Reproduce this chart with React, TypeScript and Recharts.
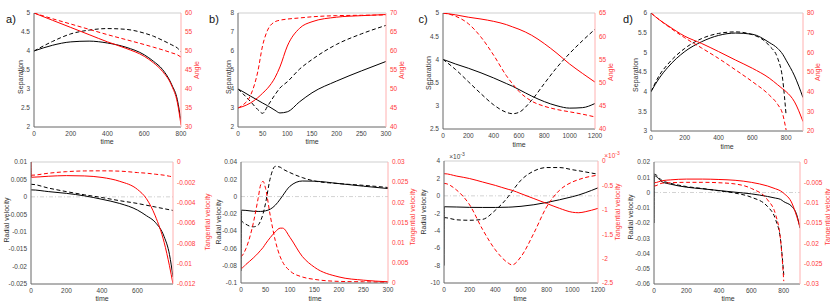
import React from "react"
import { LineChart, Line, XAxis, YAxis, ReferenceLine } from "recharts"

// ---- panel a: separation / angle ----
const tA = [0, 100, 200, 300, 400, 500, 600, 650, 700, 750, 780, 800]
const sepA = [4.0, 4.15, 4.24, 4.26, 4.21, 4.1, 3.9, 3.73, 3.51, 3.11, 2.72, 2.15]
const sepA2 = [4.0, 4.25, 4.45, 4.55, 4.59, 4.57, 4.47, 4.39, 4.28, 4.16, 4.08, 3.98]
const angA = [60, 58.1, 56.2, 54.3, 52.4, 50.7, 48.6, 46.9, 44.6, 40.8, 36.5, 30.5]
const angA2 = [60, 58.5, 57.1, 55.7, 54.3, 53.0, 51.7, 51.0, 50.3, 49.5, 49.0, 48.4]

// ---- panel b ----
const tB = [0, 10, 25, 40, 50, 60, 75, 85, 100, 125, 150, 200, 250, 300]
const sepB = [4.0, 3.86, 3.63, 3.41, 3.26, 3.12, 2.88, 2.74, 2.8, 3.33, 3.8, 4.42, 4.95, 5.45]
const sepB2 = [4.0, 3.75, 3.35, 2.92, 2.72, 3.1, 3.7, 4.05, 4.38, 5.05, 5.55, 6.35, 6.9, 7.35]
const angB = [45, 45.4, 46.3, 47.7, 48.9, 50.2, 53.0, 55.8, 61.3, 66.0, 67.7, 68.9, 69.3, 69.6]
const angB2 = [45, 45.8, 48.2, 54.5, 61.5, 65.5, 67.7, 68.1, 68.4, 68.7, 69.0, 69.3, 69.4, 69.5]

// ---- panel c ----
const tC = [0, 100, 200, 300, 400, 500, 550, 600, 700, 800, 900, 1000, 1100, 1200]
const sepC = [4.0, 3.9, 3.81, 3.71, 3.6, 3.48, 3.42, 3.35, 3.21, 3.09, 3.0, 2.95, 2.96, 3.05]
const sepC2 = [4.0, 3.78, 3.52, 3.26, 3.02, 2.86, 2.83, 2.86, 3.12, 3.48, 3.83, 4.13, 4.4, 4.65]
const angC = [65, 64.6, 64.1, 63.7, 63.2, 62.5, 62.0, 61.5, 60.2, 58.4, 56.3, 54.0, 52.0, 50.1]
const angC2 = [65, 64.3, 62.7, 59.8, 55.9, 51.5, 49.7, 48.1, 46.0, 44.9, 44.2, 43.7, 43.2, 42.6]

// ---- panel d ----
const tD = [0, 50, 100, 200, 300, 400, 500, 600, 700, 750, 780, 800, 850, 900]
const sepD = [4.0, 4.35, 4.62, 5.02, 5.27, 5.43, 5.49, 5.46, 5.25, 5.1, 4.95, 4.8, 4.4, 3.85]
const sepD2 = [4.0, 4.42, 4.7, 5.1, 5.35, 5.48, 5.52, 5.45, 5.17, 4.85, 4.3, 3.4, null, null]
const angD = [80, 76.5, 73.6, 68.2, 64.5, 60.4, 56.1, 51.9, 46.9, 43.5, 41.4, 40.0, 34.8, 24.8]
const angD2 = [80, 76.5, 73.3, 67.4, 62.2, 56.9, 51.1, 45.1, 38.3, 33.5, 28.5, 20.5, null, null]

// ---- velocities ----
const tAv = [0, 2, 100, 200, 300, 400, 500, 600, 650, 700, 750, 780, 800]
const rvA = [0.002, 0.002, 0.0015, 0.001, 0.0003, -0.0007, -0.0019, -0.0038, -0.0054, -0.0073, -0.0114, -0.0165, -0.023]
const rvA2 = [0.0036, 0.0036, 0.0025, 0.0015, 0.0006, -0.0002, -0.0011, -0.0019, -0.0024, -0.0029, -0.0034, -0.0037, -0.0039]
const tvA = [0, -0.0015, -0.0014, -0.00134, -0.00137, -0.00152, -0.0019, -0.0027, -0.0036, -0.0053, -0.0079, -0.0102, -0.012]
const tvA2 = [-0.0013, -0.0013, -0.0011, -0.00095, -0.00088, -0.00087, -0.0009, -0.00104, -0.0011, -0.0012, -0.0013, -0.0014, -0.00147]

const tBv = [0, 1, 10, 25, 35, 40, 45, 50, 60, 70, 80, 85, 100, 125, 150, 200, 250, 300]
const rvB = [-0.086, -0.0157, -0.016, -0.017, -0.0172, -0.0172, -0.017, -0.0165, -0.0145, -0.01, -0.003, 0.001, 0.012, 0.018, 0.0178, 0.015, 0.012, 0.0093]
const rvB2 = [-0.027, -0.028, -0.032, -0.035, -0.033, -0.028, -0.02, -0.008, 0.022, 0.035, 0.034, 0.032, 0.0277, 0.022, 0.018, 0.015, 0.013, 0.0105]
const tvB = [0.0037, 0.0037, 0.0046, 0.0062, 0.0074, 0.0081, 0.0088, 0.0097, 0.0113, 0.0127, 0.0136, 0.0136, 0.0113, 0.0066, 0.0039, 0.0015, 0.0007, 0.0003]
const tvB2 = [0.0065, 0.0066, 0.0085, 0.0148, 0.021, 0.0243, 0.0252, 0.0235, 0.0165, 0.0105, 0.0065, 0.0052, 0.003, 0.0015, 0.0009, 0.0004, 0.0003, 0.0002]

// panel c velocities are in units of 1e-3
const tCv = [0, 2, 100, 200, 300, 400, 500, 530, 600, 700, 800, 900, 1000, 1050, 1100, 1200]
const rvC = [-8, -1.25, -1.28, -1.32, -1.33, -1.33, -1.3, -1.28, -1.2, -1.02, -0.76, -0.45, -0.1, 0.1, 0.35, 0.92]
const rvC2 = [-2.5, -2.5, -2.75, -2.8, -2.7, -1.65, -0.1, 0.5, 1.8, 2.85, 3.25, 3.25, 3.0, 2.88, 2.75, 2.48]
const tvC = [-0.26, -0.26, -0.31, -0.36, -0.43, -0.5, -0.58, -0.6, -0.67, -0.77, -0.87, -0.97, -1.05, -1.06, -1.04, -0.97]
const tvC2 = [-0.46, -0.46, -0.6, -0.9, -1.4, -1.82, -2.09, -2.13, -1.96, -1.48, -0.94, -0.6, -0.43, -0.38, -0.34, -0.29]

const tDv = [0, 2, 50, 100, 200, 300, 400, 500, 600, 700, 750, 780, 800, 850, 880, 900]
const rvD = [-0.02, 0.011, 0.007, 0.0055, 0.0035, 0.0024, 0.0013, 0.0002, -0.0009, -0.0026, -0.0037, -0.0045, -0.006, -0.0092, -0.0147, -0.0234]
const rvD2 = [0.012, 0.012, 0.0078, 0.0061, 0.0039, 0.0026, 0.0011, -0.0004, -0.0031, -0.0092, -0.0179, -0.031, -0.054, null, null, null]
const tvD = [-0.0051, -0.0051, -0.0046, -0.0044, -0.0042, -0.0042, -0.0043, -0.0045, -0.005, -0.0059, -0.0066, -0.0071, -0.0077, -0.0101, -0.0134, -0.016]
const tvD2 = [-0.0059, -0.0059, -0.0052, -0.0051, -0.005, -0.005, -0.0051, -0.0054, -0.0065, -0.0093, -0.013, -0.0191, -0.0293, null, null, null]

const BLACK = "#000"
const RED = "#ff0000"
const FONT = "'Liberation Sans', Arial, sans-serif"

type Val = number | null

interface Series {
  values: Val[]
  axis: "l" | "r"
  color: string
  dashed?: boolean
}

interface PanelProps {
  x0: number
  x1: number
  y0: number
  y1: number
  time: number[]
  xDomain: [number, number]
  xTicks: number[]
  lDomain: [number, number]
  lTicks: number[]
  rDomain: [number, number]
  rTicks: number[]
  series: Series[]
  zero?: boolean
}

const fmt = (v: number) => {
  const r = Number(v.toFixed(8))
  return String(r === 0 ? 0 : r)
}

// tick positions, rounded so that 0 stays 0
const range = (a: number, b: number, s: number) => {
  const n = Math.round((b - a) / s)
  const out: number[] = []
  for (let i = 0; i <= n; i++) out.push(Number((a + i * s).toFixed(8)))
  return out
}

function Panel(p: PanelProps) {
  const data = p.time.map((t, i) => {
    const row: Record<string, Val> = { t }
    p.series.forEach((s, k) => (row["s" + k] = s.values[i]))
    return row
  })
  const w = p.x1 - p.x0 + 80
  const h = p.y1 - p.y0 + 25
  return (
    <div style={{ position: "absolute", left: p.x0 - 40, top: p.y0 - 5 }}>
      <LineChart width={w} height={h} data={data} margin={{ top: 5, right: 0, bottom: 0, left: 0 }}>
        <XAxis
          dataKey="t"
          type="number"
          domain={p.xDomain}
          ticks={p.xTicks}
          height={20}
          stroke="#666"
          tickLine={false}
          tickSize={2}
          tickFormatter={fmt}
          tick={{ fill: "#444", fontSize: 6.5, fontFamily: FONT }}
          allowDataOverflow
        />
        <YAxis
          yAxisId="l"
          domain={p.lDomain}
          ticks={p.lTicks}
          width={40}
          stroke="#666"
          tickLine={false}
          tickSize={2}
          tickFormatter={fmt}
          tick={{ fill: "#444", fontSize: 6.5, fontFamily: FONT }}
          allowDataOverflow
        />
        <YAxis
          yAxisId="r"
          orientation="right"
          domain={p.rDomain}
          ticks={p.rTicks}
          width={40}
          stroke="#ffb0b0"
          tickLine={false}
          tickSize={2}
          tickFormatter={fmt}
          tick={{ fill: "#ff3b3b", fontSize: 6.5, fontFamily: FONT }}
          allowDataOverflow
        />
        <ReferenceLine yAxisId="l" y={p.lDomain[1]} stroke="#cfcfcf" />
        {p.zero && (
          <ReferenceLine yAxisId="l" y={0} stroke="#c8c8c8" strokeWidth={0.8} strokeDasharray="4 2 1 2" />
        )}
        {p.series.map((s, k) => (
          <Line
            key={k}
            yAxisId={s.axis}
            dataKey={"s" + k}
            type="monotone"
            stroke={s.color}
            strokeWidth={1}
            strokeDasharray={s.dashed ? "4 2.5" : undefined}
            dot={false}
            isAnimationActive={false}
          />
        ))}
      </LineChart>
    </div>
  )
}

function Txt({ x, y, text, color = "#333", rot = false, size = 7 }: { x: number; y: number; text: React.ReactNode; color?: string; rot?: boolean; size?: number }) {
  return (
    <div
      style={{
        position: "absolute",
        left: x,
        top: y,
        transform: `translate(-50%, -50%)${rot ? " rotate(-90deg)" : ""}`,
        whiteSpace: "nowrap",
        fontSize: size,
        color,
        fontFamily: FONT,
        lineHeight: 1,
      }}
    >
      {text}
    </div>
  )
}

const sep = (a: Val[], b: Val[], c: Val[], d: Val[]): Series[] => [
  { values: a, axis: "l", color: BLACK },
  { values: b, axis: "l", color: BLACK, dashed: true },
  { values: c, axis: "r", color: RED },
  { values: d, axis: "r", color: RED, dashed: true },
]

export default function App() {
  const exp = (
    <span>
      ×10<sup style={{ fontSize: 5 }}>-3</sup>
    </span>
  )
  return (
    <div style={{ position: "absolute", left: 0, top: 0, width: 830, height: 304, background: "#fff", overflow: "hidden", fontFamily: FONT }}>
      {/* top row */}
      <Panel x0={34} x1={181} y0={13} y1={127} time={tA} xDomain={[0, 800]} xTicks={range(0, 800, 200)}
        lDomain={[2, 5]} lTicks={range(2, 5, 0.5)} rDomain={[30, 60]} rTicks={range(30, 60, 5)}
        series={sep(sepA, sepA2, angA, angA2)} />
      <Panel x0={238} x1={386} y0={13} y1={127} time={tB} xDomain={[0, 300]} xTicks={range(0, 300, 50)}
        lDomain={[2, 8]} lTicks={range(2, 8, 1)} rDomain={[40, 70]} rTicks={range(40, 70, 5)}
        series={sep(sepB, sepB2, angB, angB2)} />
      <Panel x0={443} x1={595} y0={13} y1={129} time={tC} xDomain={[0, 1200]} xTicks={range(0, 1200, 200)}
        lDomain={[2.5, 5]} lTicks={range(2.5, 5, 0.5)} rDomain={[40, 65]} rTicks={range(40, 65, 5)}
        series={sep(sepC, sepC2, angC, angC2)} />
      <Panel x0={651} x1={803} y0={13} y1={131} time={tD} xDomain={[0, 900]} xTicks={range(0, 800, 200)}
        lDomain={[3, 6]} lTicks={range(3, 6, 0.5)} rDomain={[20, 80]} rTicks={range(20, 80, 10)}
        series={sep(sepD, sepD2, angD, angD2)} />

      {/* bottom row */}
      <Panel x0={31} x1={173} y0={162} y1={284} time={tAv} xDomain={[0, 800]} xTicks={range(0, 600, 200)}
        lDomain={[-0.025, 0.01]} lTicks={range(-0.025, 0.01, 0.005)} rDomain={[-0.012, 0]} rTicks={range(-0.012, 0, 0.002)}
        series={sep(rvA, rvA2, tvA, tvA2)} zero />
      <Panel x0={241} x1={388} y0={162} y1={283} time={tBv} xDomain={[0, 300]} xTicks={range(0, 300, 50)}
        lDomain={[-0.1, 0.04]} lTicks={range(-0.1, 0.04, 0.02)} rDomain={[0, 0.03]} rTicks={range(0, 0.03, 0.005)}
        series={sep(rvB, rvB2, tvB, tvB2)} zero />
      <Panel x0={444} x1={598} y0={161} y1={283} time={tCv} xDomain={[0, 1200]} xTicks={range(0, 1200, 200)}
        lDomain={[-10, 4]} lTicks={range(-10, 4, 2)} rDomain={[-2.5, 0]} rTicks={range(-2.5, 0, 0.5)}
        series={sep(rvC, rvC2, tvC, tvC2)} zero />
      <Panel x0={654} x1={800} y0={162} y1={284} time={tDv} xDomain={[0, 900]} xTicks={range(0, 800, 200)}
        lDomain={[-0.06, 0.02]} lTicks={range(-0.06, 0.02, 0.01)} rDomain={[-0.03, 0]} rTicks={range(-0.03, 0, 0.005)}
        series={sep(rvD, rvD2, tvD, tvD2)} zero />

      {/* panel letters */}
      <Txt x={11} y={19} text="a)" color="#111" size={11} />
      <Txt x={214} y={19} text="b)" color="#111" size={11} />
      <Txt x={423} y={19} text="c)" color="#111" size={11} />
      <Txt x={628} y={19} text="d)" color="#111" size={11} />

      {/* top axis labels */}
      <Txt x={20} y={77} text="Separation" rot />
      <Txt x={196} y={70} text="Angle" rot color="#ff3b3b" />
      <Txt x={107} y={141} text="time" />
      <Txt x={228} y={77} text="Separation" rot />
      <Txt x={401} y={70} text="Angle" rot color="#ff3b3b" />
      <Txt x={312} y={141} text="time" />
      <Txt x={428} y={73} text="Separation" rot />
      <Txt x={610} y={72} text="Angle" rot color="#ff3b3b" />
      <Txt x={519} y={144} text="time" />
      <Txt x={635} y={75} text="Separation" rot />
      <Txt x={817} y={72} text="Angle" rot color="#ff3b3b" />
      <Txt x={727} y={146} text="time" />

      {/* bottom axis labels */}
      <Txt x={6} y={220} text="Radial velocity" rot />
      <Txt x={207} y={222} text="Tangential velocity" rot color="#ff3b3b" />
      <Txt x={102} y={298} text="time" />
      <Txt x={218} y={222} text="Radial velocity" rot />
      <Txt x={412} y={217} text="Tangential velocity" rot color="#ff3b3b" />
      <Txt x={315} y={298} text="time" />
      <Txt x={423} y={212} text="Radial velocity" rot />
      <Txt x={617} y={212} text="Tangential velocity" rot color="#ff3b3b" />
      <Txt x={520} y={298} text="time" />
      <Txt x={630} y={217} text="Radial velocity" rot />
      <Txt x={827} y={217} text="Tangential velocity" rot color="#ff3b3b" />
      <Txt x={728} y={298} text="time" />

      <Txt x={457} y={156} text={exp} color="#444" size={6.5} />
      <Txt x={612} y={155} text={exp} color="#ff3b3b" size={6.5} />
    </div>
  )
}
